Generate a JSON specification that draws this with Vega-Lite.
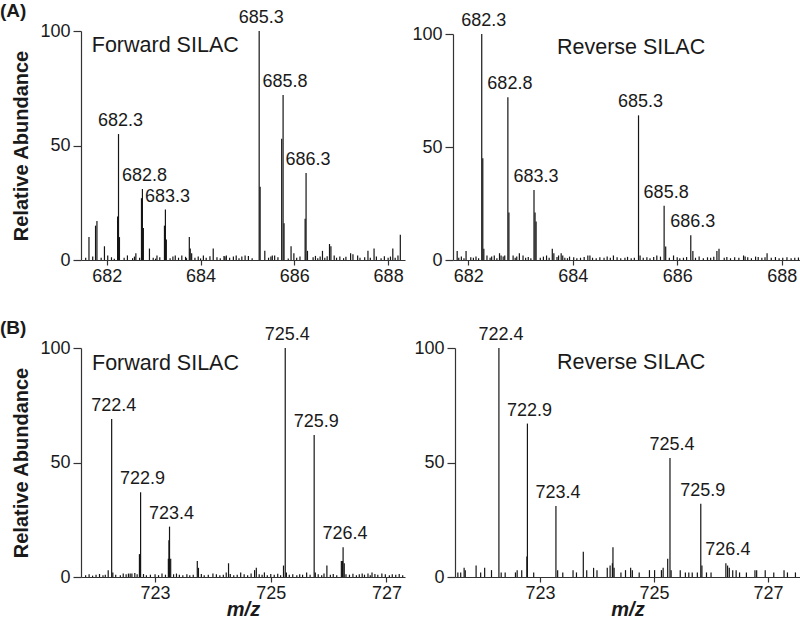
{
  "$schema": "https://vega.github.io/schema/vega-lite/v6.json",
  "padding": {"left": 0, "top": 2, "right": 0, "bottom": 0},
  "background": "white",
  "config": {
    "view": {"stroke": null},
    "font": "Liberation Sans",
    "axis": {"domainColor": "#333", "tickColor": "#333", "labelColor": "#1a1a1a", "labelFont": "Liberation Sans", "labelFontSize": 18, "grid": false, "titleFont": "Liberation Sans", "titleFontWeight": "bold", "titleFontSize": 20, "titleColor": "#1a1a1a", "domainWidth": 1.2, "tickWidth": 1.2},
    "axisX": {"tickSize": 5, "labelPadding": 2, "labelFlush": false, "format": "d"},
    "title": {"font": "Liberation Sans", "fontSize": 19, "fontWeight": "bold", "color": "#1a1a1a"}
  },
  "datasets": {
    "aF": [
      {"mz":681.62,"ab":10},{"mz":681.76,"ab":15},{"mz":681.79,"ab":17},{"mz":681.95,"ab":6},{"mz":682.02,"ab":2},{"mz":682.23,"ab":19},{"mz":682.25,"ab":55,"t":"682.3"},{"mz":682.27,"ab":10},{"mz":682.44,"ab":2},{"mz":682.62,"ab":3},{"mz":682.74,"ab":27},{"mz":682.76,"ab":31,"t":"682.8"},{"mz":682.78,"ab":14},{"mz":682.91,"ab":5},{"mz":683.07,"ab":2},{"mz":683.23,"ab":15},{"mz":683.25,"ab":22,"t":"683.3"},{"mz":683.27,"ab":9},{"mz":683.46,"ab":2},{"mz":683.6,"ab":2},{"mz":683.76,"ab":10},{"mz":683.78,"ab":5},{"mz":683.81,"ab":3},{"mz":684.06,"ab":2},{"mz":684.27,"ab":5},{"mz":684.55,"ab":2},{"mz":684.76,"ab":2},{"mz":684.95,"ab":2},{"mz":685.25,"ab":100,"t":"685.3"},{"mz":685.27,"ab":32},{"mz":685.37,"ab":4},{"mz":685.58,"ab":2},{"mz":685.73,"ab":53},{"mz":685.76,"ab":72,"t":"685.8"},{"mz":685.78,"ab":16},{"mz":685.93,"ab":6},{"mz":686.23,"ab":18},{"mz":686.25,"ab":38,"t":"686.3"},{"mz":686.28,"ab":4},{"mz":686.6,"ab":4},{"mz":686.75,"ab":7},{"mz":686.78,"ab":6},{"mz":687.2,"ab":3},{"mz":687.35,"ab":2},{"mz":687.57,"ab":4},{"mz":687.7,"ab":5},{"mz":688.1,"ab":5},{"mz":688.26,"ab":11},
      {"mz":681.55,"ab":1},{"mz":681.7,"ab":1.5},{"mz":681.88,"ab":1},{"mz":682.1,"ab":1.2},{"mz":682.16,"ab":0.6},{"mz":682.37,"ab":1},{"mz":682.55,"ab":0.8},{"mz":682.59,"ab":1.5},{"mz":682.7,"ab":1},{"mz":682.99,"ab":1},{"mz":683.04,"ab":0.6},{"mz":683.13,"ab":1.2},{"mz":683.35,"ab":0.8},{"mz":683.41,"ab":1.5},{"mz":683.53,"ab":1},{"mz":683.68,"ab":1.4},{"mz":683.7,"ab":0.8},{"mz":683.88,"ab":1},{"mz":683.95,"ab":1.5},{"mz":684.0,"ab":0.7},{"mz":684.12,"ab":1},{"mz":684.2,"ab":1.6},{"mz":684.35,"ab":1.2},{"mz":684.42,"ab":0.8},{"mz":684.5,"ab":1.8},{"mz":684.52,"ab":1.5},{"mz":684.62,"ab":1},{"mz":684.7,"ab":1.5},{"mz":684.82,"ab":0.8},{"mz":684.88,"ab":1.5},{"mz":685.02,"ab":1.8},{"mz":685.1,"ab":0.8},{"mz":685.45,"ab":1},{"mz":685.5,"ab":1.5},{"mz":685.53,"ab":2},{"mz":685.65,"ab":1.2},{"mz":685.87,"ab":0.7},{"mz":685.99,"ab":3},{"mz":686.05,"ab":1},{"mz":686.12,"ab":1.5},{"mz":686.4,"ab":1.2},{"mz":686.45,"ab":1.8},{"mz":686.5,"ab":0.8},{"mz":686.55,"ab":1.5},{"mz":686.65,"ab":1},{"mz":686.7,"ab":1.6},{"mz":686.85,"ab":2},{"mz":686.9,"ab":1},{"mz":686.97,"ab":1.5},{"mz":687.05,"ab":0.8},{"mz":687.1,"ab":1.4},{"mz":687.25,"ab":2.5},{"mz":687.4,"ab":1},{"mz":687.5,"ab":1.2},{"mz":687.62,"ab":1},{"mz":687.75,"ab":1.5},{"mz":687.85,"ab":0.8},{"mz":687.92,"ab":1.6},{"mz":688.0,"ab":1},{"mz":688.05,"ab":1.5},{"mz":688.15,"ab":1},{"mz":688.21,"ab":2}
    ],
    "aR": [
      {"mz":681.79,"ab":4},{"mz":681.96,"ab":4},{"mz":682.26,"ab":100,"t":"682.3"},{"mz":682.28,"ab":45},{"mz":682.3,"ab":5},{"mz":682.36,"ab":2},{"mz":682.5,"ab":2},{"mz":682.6,"ab":3},{"mz":682.63,"ab":2},{"mz":682.76,"ab":72,"t":"682.8"},{"mz":682.78,"ab":21},{"mz":682.86,"ab":2},{"mz":682.98,"ab":3},{"mz":683.05,"ab":2},{"mz":683.26,"ab":31,"t":"683.3"},{"mz":683.28,"ab":21},{"mz":683.3,"ab":17},{"mz":683.5,"ab":2},{"mz":683.61,"ab":5},{"mz":683.64,"ab":3},{"mz":683.78,"ab":3},{"mz":683.81,"ab":2},{"mz":683.94,"ab":1.5},{"mz":684.29,"ab":2},{"mz":684.33,"ab":2},{"mz":684.78,"ab":2},{"mz":685.26,"ab":64,"t":"685.3"},{"mz":685.29,"ab":2},{"mz":685.61,"ab":2},{"mz":685.75,"ab":24,"t":"685.8"},{"mz":685.78,"ab":6},{"mz":685.93,"ab":2},{"mz":686.26,"ab":11,"t":"686.3"},{"mz":686.3,"ab":4},{"mz":686.76,"ab":4},{"mz":686.8,"ab":5},{"mz":687.27,"ab":2},{"mz":687.5,"ab":1.5},{"mz":687.72,"ab":3},
      {"mz":681.82,"ab":1},{"mz":681.87,"ab":1.5},{"mz":681.92,"ab":0.8},{"mz":682.05,"ab":1.2},{"mz":682.1,"ab":1},{"mz":682.15,"ab":1.5},{"mz":682.2,"ab":0.8},{"mz":682.42,"ab":1},{"mz":682.45,"ab":1.5},{"mz":682.55,"ab":0.8},{"mz":682.67,"ab":1.5},{"mz":682.7,"ab":2},{"mz":682.9,"ab":1},{"mz":682.93,"ab":1.5},{"mz":683.1,"ab":1},{"mz":683.15,"ab":1.3},{"mz":683.2,"ab":0.8},{"mz":683.38,"ab":1},{"mz":683.44,"ab":1.5},{"mz":683.55,"ab":1},{"mz":683.7,"ab":1.3},{"mz":683.73,"ab":2},{"mz":683.85,"ab":1},{"mz":683.9,"ab":0.8},{"mz":684.02,"ab":1.2},{"mz":684.08,"ab":0.8},{"mz":684.15,"ab":1},{"mz":684.22,"ab":1.3},{"mz":684.38,"ab":1},{"mz":684.45,"ab":0.8},{"mz":684.52,"ab":1.2},{"mz":684.6,"ab":1},{"mz":684.66,"ab":1.5},{"mz":684.72,"ab":1},{"mz":684.85,"ab":1.2},{"mz":684.92,"ab":0.8},{"mz":685.0,"ab":1},{"mz":685.05,"ab":1.4},{"mz":685.12,"ab":0.8},{"mz":685.18,"ab":1},{"mz":685.35,"ab":1},{"mz":685.42,"ab":1.2},{"mz":685.48,"ab":0.8},{"mz":685.55,"ab":1.3},{"mz":685.68,"ab":1.5},{"mz":685.85,"ab":1},{"mz":686.0,"ab":1.2},{"mz":686.05,"ab":0.8},{"mz":686.12,"ab":1},{"mz":686.18,"ab":1.3},{"mz":686.35,"ab":1},{"mz":686.42,"ab":1.5},{"mz":686.5,"ab":0.8},{"mz":686.58,"ab":1.2},{"mz":686.64,"ab":1},{"mz":686.7,"ab":1.4},{"mz":686.9,"ab":1},{"mz":686.95,"ab":1.3},{"mz":687.02,"ab":0.8},{"mz":687.1,"ab":1.2},{"mz":687.18,"ab":1},{"mz":687.3,"ab":1.5},{"mz":687.35,"ab":1.2},{"mz":687.42,"ab":0.8},{"mz":687.55,"ab":1.3},{"mz":687.62,"ab":1},{"mz":687.68,"ab":1.2},{"mz":687.8,"ab":1},{"mz":687.88,"ab":1.3},{"mz":687.95,"ab":0.8},{"mz":688.02,"ab":1},{"mz":688.1,"ab":1.2},{"mz":688.18,"ab":0.8},{"mz":688.25,"ab":1},{"mz":688.32,"ab":1.1}
    ],
    "bF": [
      {"mz":722.19,"ab":3},{"mz":722.25,"ab":69,"t":"722.4"},{"mz":722.27,"ab":2},{"mz":722.45,"ab":1.5},{"mz":722.54,"ab":1.5},{"mz":722.6,"ab":1.5},{"mz":722.73,"ab":10},{"mz":722.75,"ab":37,"t":"722.9"},{"mz":723.23,"ab":8},{"mz":723.24,"ab":16},{"mz":723.25,"ab":22,"t":"723.4"},{"mz":723.27,"ab":8},{"mz":723.37,"ab":1.5},{"mz":723.73,"ab":7},{"mz":723.75,"ab":4},{"mz":724.0,"ab":1.5},{"mz":724.23,"ab":2},{"mz":724.27,"ab":6},{"mz":724.48,"ab":2},{"mz":724.72,"ab":3},{"mz":724.75,"ab":4},{"mz":724.89,"ab":2},{"mz":725.22,"ab":5},{"mz":725.25,"ab":100,"t":"725.4"},{"mz":725.27,"ab":2},{"mz":725.62,"ab":2},{"mz":725.75,"ab":62,"t":"725.9"},{"mz":725.77,"ab":2},{"mz":725.97,"ab":5},{"mz":726.22,"ab":7},{"mz":726.24,"ab":7},{"mz":726.25,"ab":13,"t":"726.4"},{"mz":726.27,"ab":6},{"mz":726.58,"ab":1.5},{"mz":726.75,"ab":2},{"mz":726.92,"ab":1.5},
      {"mz":721.8,"ab":0.8},{"mz":721.86,"ab":1.2},{"mz":721.92,"ab":0.6},{"mz":721.98,"ab":1},{"mz":722.04,"ab":1.3},{"mz":722.1,"ab":0.8},{"mz":722.14,"ab":1},{"mz":722.32,"ab":1},{"mz":722.4,"ab":0.8},{"mz":722.5,"ab":1.2},{"mz":722.57,"ab":1.5},{"mz":722.65,"ab":1.8},{"mz":722.69,"ab":1.2},{"mz":722.8,"ab":1.3},{"mz":722.85,"ab":0.8},{"mz":722.92,"ab":1},{"mz":723.0,"ab":1.2},{"mz":723.06,"ab":0.8},{"mz":723.12,"ab":1.5},{"mz":723.18,"ab":1},{"mz":723.32,"ab":1.2},{"mz":723.42,"ab":1},{"mz":723.48,"ab":0.8},{"mz":723.55,"ab":1.2},{"mz":723.6,"ab":0.8},{"mz":723.66,"ab":1},{"mz":723.8,"ab":1.3},{"mz":723.85,"ab":0.8},{"mz":723.92,"ab":1},{"mz":724.06,"ab":1.2},{"mz":724.12,"ab":0.8},{"mz":724.18,"ab":1},{"mz":724.3,"ab":1.3},{"mz":724.36,"ab":0.8},{"mz":724.42,"ab":1},{"mz":724.54,"ab":1.2},{"mz":724.6,"ab":0.8},{"mz":724.66,"ab":1.5},{"mz":724.8,"ab":1.2},{"mz":724.85,"ab":1},{"mz":724.94,"ab":0.8},{"mz":725.0,"ab":1.3},{"mz":725.06,"ab":1},{"mz":725.12,"ab":1.4},{"mz":725.17,"ab":0.8},{"mz":725.32,"ab":1},{"mz":725.38,"ab":1.2},{"mz":725.45,"ab":0.8},{"mz":725.5,"ab":1.2},{"mz":725.55,"ab":1},{"mz":725.68,"ab":1},{"mz":725.82,"ab":1.2},{"mz":725.88,"ab":0.8},{"mz":725.92,"ab":1.5},{"mz":726.03,"ab":1},{"mz":726.08,"ab":1.3},{"mz":726.14,"ab":0.8},{"mz":726.3,"ab":1.2},{"mz":726.36,"ab":1},{"mz":726.42,"ab":1.4},{"mz":726.48,"ab":0.8},{"mz":726.53,"ab":1.2},{"mz":726.62,"ab":1},{"mz":726.68,"ab":1.5},{"mz":726.72,"ab":0.8},{"mz":726.8,"ab":1.3},{"mz":726.85,"ab":1},{"mz":726.98,"ab":1.2},{"mz":727.05,"ab":0.8},{"mz":727.1,"ab":1.2},{"mz":727.16,"ab":1},{"mz":727.22,"ab":1.3},{"mz":727.28,"ab":0.8}
    ],
    "bR": [
      {"mz":721.56,"ab":2},{"mz":721.61,"ab":2},{"mz":721.67,"ab":4},{"mz":721.69,"ab":3},{"mz":721.88,"ab":5},{"mz":721.96,"ab":2},{"mz":722.03,"ab":4},{"mz":722.15,"ab":3},{"mz":722.28,"ab":100,"t":"722.4"},{"mz":722.32,"ab":2},{"mz":722.39,"ab":2},{"mz":722.57,"ab":2},{"mz":722.6,"ab":3},{"mz":722.68,"ab":3},{"mz":722.77,"ab":9},{"mz":722.78,"ab":67,"t":"722.9"},{"mz":722.89,"ab":2},{"mz":723.28,"ab":31,"t":"723.4"},{"mz":723.31,"ab":3},{"mz":723.4,"ab":2},{"mz":723.58,"ab":3},{"mz":723.64,"ab":2},{"mz":723.76,"ab":11},{"mz":723.82,"ab":3},{"mz":723.94,"ab":4},{"mz":724.0,"ab":3},{"mz":724.18,"ab":4},{"mz":724.23,"ab":5},{"mz":724.27,"ab":6},{"mz":724.28,"ab":13},{"mz":724.3,"ab":4},{"mz":724.42,"ab":2},{"mz":724.5,"ab":3},{"mz":724.59,"ab":4},{"mz":724.62,"ab":3},{"mz":724.74,"ab":2},{"mz":724.92,"ab":3},{"mz":725.01,"ab":3},{"mz":725.13,"ab":3},{"mz":725.16,"ab":4},{"mz":725.24,"ab":8},{"mz":725.28,"ab":52,"t":"725.4"},{"mz":725.3,"ab":3},{"mz":725.46,"ab":3},{"mz":725.55,"ab":2},{"mz":725.61,"ab":2},{"mz":725.67,"ab":2},{"mz":725.76,"ab":2},{"mz":725.82,"ab":32,"t":"725.9"},{"mz":725.84,"ab":5},{"mz":725.92,"ab":2},{"mz":726.0,"ab":2},{"mz":726.26,"ab":6,"t":"726.4"},{"mz":726.29,"ab":5},{"mz":726.32,"ab":4},{"mz":726.38,"ab":3},{"mz":726.44,"ab":3},{"mz":726.5,"ab":2},{"mz":726.62,"ab":2},{"mz":726.77,"ab":3},{"mz":726.8,"ab":3},{"mz":726.95,"ab":3},{"mz":727.1,"ab":2},{"mz":727.28,"ab":3},{"mz":727.34,"ab":2},{"mz":727.48,"ab":2}
    ]
  },
  "vconcat": [
    {
      "title": {"text": "(A)", "anchor": "start", "frame": "group", "dx": -81, "offset": -12},
      "spacing": 48,
      "bounds": "flush",
      "hconcat": [
        {
          "width": 324, "height": 229,
          "layer": [
            {"data": {"name": "aF"}, "mark": {"type": "rule", "color": "#151515", "strokeWidth": 1.2},
             "encoding": {
               "x": {"field": "mz", "type": "quantitative", "scale": {"domain": [681.45, 688.36], "nice": false, "zero": false},
                     "axis": {"title": null, "values": [682, 684, 686, 688]}},
               "y": {"field": "ab", "type": "quantitative", "scale": {"domain": [0, 100], "nice": false},
                     "axis": {"title": "Relative Abundance", "values": [0, 50, 100], "tickSize": 8, "labelPadding": 3, "titlePadding": 8}},
               "y2": {"datum": 0}}},
            {"data": {"name": "aF"}, "transform": [{"filter": "isValid(datum.t)"}],
             "mark": {"type": "text", "baseline": "bottom", "dy": -4, "dx": 2, "fontSize": 18, "color": "#1a1a1a"},
             "encoding": {"x": {"field": "mz", "type": "quantitative"}, "y": {"field": "ab", "type": "quantitative"}, "text": {"field": "t"}}},
            {"data": {"values": [{}]}, "mark": {"type": "text", "align": "left", "baseline": "middle", "fontSize": 21.5, "color": "#1a1a1a"},
             "encoding": {"x": {"datum": 681.68}, "y": {"datum": 93.5}, "text": {"value": "Forward SILAC"}}}
          ]
        },
        {
          "width": 347, "height": 229,
          "layer": [
            {"data": {"name": "aR"}, "mark": {"type": "rule", "color": "#151515", "strokeWidth": 1.2},
             "encoding": {
               "x": {"field": "mz", "type": "quantitative", "scale": {"domain": [681.71, 688.35], "nice": false, "zero": false},
                     "axis": {"title": null, "values": [682, 684, 686, 688]}},
               "y": {"field": "ab", "type": "quantitative", "scale": {"domain": [0, 100], "nice": false, "range": [229, 3]},
                     "axis": {"title": null, "values": [0, 50, 100], "tickSize": 8, "labelPadding": 3}},
               "y2": {"datum": 0}}},
            {"data": {"name": "aR"}, "transform": [{"filter": "isValid(datum.t)"}],
             "mark": {"type": "text", "baseline": "bottom", "dy": -4, "dx": 2, "fontSize": 18, "color": "#1a1a1a"},
             "encoding": {"x": {"field": "mz", "type": "quantitative"}, "y": {"field": "ab", "type": "quantitative"}, "text": {"field": "t"}}},
            {"data": {"values": [{}]}, "mark": {"type": "text", "align": "left", "baseline": "middle", "fontSize": 21.5, "color": "#1a1a1a"},
             "encoding": {"x": {"datum": 683.7}, "y": {"datum": 94}, "text": {"value": "Reverse SILAC"}}}
          ]
        }
      ]
    },
    {
      "title": {"text": "(B)", "anchor": "start", "frame": "group", "dx": -81, "offset": -12},
      "spacing": 50,
      "bounds": "flush",
      "hconcat": [
        {
          "width": 324, "height": 229,
          "layer": [
            {"data": {"name": "bF"}, "mark": {"type": "rule", "color": "#151515", "strokeWidth": 1.2},
             "encoding": {
               "x": {"field": "mz", "type": "quantitative", "scale": {"domain": [721.72, 727.32], "nice": false, "zero": false},
                     "axis": {"title": "m/z", "titleFontStyle": "italic", "titlePadding": -3, "values": [723, 725, 727]}},
               "y": {"field": "ab", "type": "quantitative", "scale": {"domain": [0, 100], "nice": false},
                     "axis": {"title": "Relative Abundance", "values": [0, 50, 100], "tickSize": 8, "labelPadding": 3, "titlePadding": 8}},
               "y2": {"datum": 0}}},
            {"data": {"name": "bF"}, "transform": [{"filter": "isValid(datum.t)"}],
             "mark": {"type": "text", "baseline": "bottom", "dy": -4, "dx": 2, "fontSize": 18, "color": "#1a1a1a"},
             "encoding": {"x": {"field": "mz", "type": "quantitative"}, "y": {"field": "ab", "type": "quantitative"}, "text": {"field": "t"}}},
            {"data": {"values": [{}]}, "mark": {"type": "text", "align": "left", "baseline": "middle", "fontSize": 21.5, "color": "#1a1a1a"},
             "encoding": {"x": {"datum": 721.91}, "y": {"datum": 93}, "text": {"value": "Forward SILAC"}}}
          ]
        },
        {
          "width": 345, "height": 229,
          "layer": [
            {"data": {"name": "bR"}, "mark": {"type": "rule", "color": "#151515", "strokeWidth": 1.2},
             "encoding": {
               "x": {"field": "mz", "type": "quantitative", "scale": {"domain": [721.51, 727.56], "nice": false, "zero": false},
                     "axis": {"title": "m/z", "titleFontStyle": "italic", "titlePadding": -3, "values": [723, 725, 727]}},
               "y": {"field": "ab", "type": "quantitative", "scale": {"domain": [0, 100], "nice": false},
                     "axis": {"title": null, "values": [0, 50, 100], "tickSize": 8, "labelPadding": 3}},
               "y2": {"datum": 0}}},
            {"data": {"name": "bR"}, "transform": [{"filter": "isValid(datum.t)"}],
             "mark": {"type": "text", "baseline": "bottom", "dy": -4, "dx": 2, "fontSize": 18, "color": "#1a1a1a"},
             "encoding": {"x": {"field": "mz", "type": "quantitative"}, "y": {"field": "ab", "type": "quantitative"}, "text": {"field": "t"}}},
            {"data": {"values": [{}]}, "mark": {"type": "text", "align": "left", "baseline": "middle", "fontSize": 21.5, "color": "#1a1a1a"},
             "encoding": {"x": {"datum": 723.3}, "y": {"datum": 93.6}, "text": {"value": "Reverse SILAC"}}}
          ]
        }
      ]
    }
  ],
  "spacing": 317,
  "bounds": "flush"
}
